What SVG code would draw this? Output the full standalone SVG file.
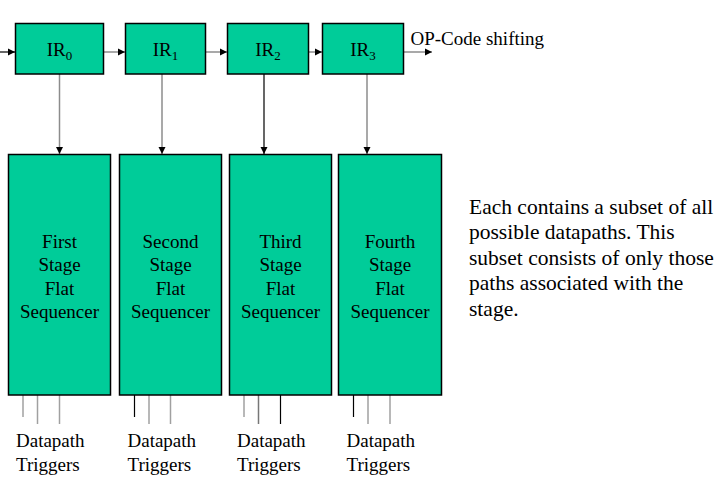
<svg xmlns="http://www.w3.org/2000/svg" width="728" height="487" viewBox="0 0 728 487" font-family="Liberation Serif, Times New Roman, serif">
<defs>
<marker id="ah" markerWidth="8" markerHeight="8" refX="7" refY="4" orient="auto" markerUnits="userSpaceOnUse">
<path d="M0,0.5 L7,4 L0,7.5 Z" fill="#000"/>
</marker>
<style>
.box{fill:#00CC99;stroke:#000;stroke-width:1.5}
.t{font-family:'Liberation Serif',serif;font-size:19px;fill:#000}
.c{text-anchor:middle}
.sub{font-size:13px}
.n{font-size:21.5px}
.g{stroke:#8c8c8c;stroke-width:1.5;fill:none}
.k{stroke:#000;stroke-width:1.2;fill:none}
.ds{stroke:#a0a0a0;stroke-width:1.5}
.dk{stroke:#000;stroke-width:1.2}
</style>
</defs>
<rect width="728" height="487" fill="#fff"/>

<g id="connectors">
<line class="k" x1="0" y1="52" x2="15" y2="52" marker-end="url(#ah)"/>
<line class="g" x1="103" y1="52" x2="125" y2="52" marker-end="url(#ah)"/>
<line class="g" x1="205" y1="52" x2="227" y2="52" marker-end="url(#ah)"/>
<line class="g" x1="308" y1="52" x2="322" y2="52" marker-end="url(#ah)"/>
<line class="g" x1="403" y1="52" x2="432" y2="52" marker-end="url(#ah)"/>
<line class="g" x1="59.5" y1="74" x2="59.5" y2="154" marker-end="url(#ah)"/>
<line class="g" x1="162" y1="74" x2="162" y2="154" marker-end="url(#ah)"/>
<line class="k" x1="264" y1="74" x2="264" y2="154" marker-end="url(#ah)"/>
<line class="g" x1="367" y1="74" x2="367" y2="154" marker-end="url(#ah)"/>
<line class="ds" x1="23" y1="395" x2="23" y2="417"/>
<line class="ds" x1="37.5" y1="395" x2="37.5" y2="424"/>
<line class="ds" x1="59.5" y1="395" x2="59.5" y2="424"/>
<line class="dk" x1="134.5" y1="395" x2="134.5" y2="417"/>
<line class="ds" x1="149" y1="395" x2="149" y2="424"/>
<line class="ds" x1="170.5" y1="395" x2="170.5" y2="424"/>
<line class="ds" x1="244" y1="395" x2="244" y2="417"/>
<line class="ds" x1="258.5" y1="395" x2="258.5" y2="424" style="stroke:#777"/>
<line class="dk" x1="280.5" y1="395" x2="280.5" y2="424"/>
<line class="dk" x1="353.5" y1="395" x2="353.5" y2="417"/>
<line class="ds" x1="368" y1="395" x2="368" y2="424"/>
<line class="ds" x1="390" y1="395" x2="390" y2="424"/>
</g>

<g id="ir0"><rect class="box" x="15.5" y="23.5" width="88" height="50.5"/><text class="t c" x="59.5" y="56">IR<tspan class="sub" dy="4">0</tspan></text></g>
<g id="ir1"><rect class="box" x="125.5" y="23.5" width="80" height="50.5"/><text class="t c" x="165.5" y="56">IR<tspan class="sub" dy="4">1</tspan></text></g>
<g id="ir2"><rect class="box" x="227.5" y="23.5" width="81" height="50.5"/><text class="t c" x="268" y="56">IR<tspan class="sub" dy="4">2</tspan></text></g>
<g id="ir3"><rect class="box" x="322.5" y="23.5" width="81" height="50.5"/><text class="t c" x="363" y="56">IR<tspan class="sub" dy="4">3</tspan></text></g>

<g id="opcode"><text class="t" x="410.5" y="45">OP-Code shifting</text></g>

<g id="stage1"><rect class="box" x="8.5" y="154.5" width="102" height="240.5"/>
<text class="t c" x="59.5" y="247.5">First</text><text class="t c" x="59.5" y="271">Stage</text><text class="t c" x="59.5" y="294.5">Flat</text><text class="t c" x="59.5" y="317.5">Sequencer</text></g>
<g id="stage2"><rect class="box" x="119.5" y="154.5" width="102" height="240.5"/>
<text class="t c" x="170.5" y="247.5">Second</text><text class="t c" x="170.5" y="271">Stage</text><text class="t c" x="170.5" y="294.5">Flat</text><text class="t c" x="170.5" y="317.5">Sequencer</text></g>
<g id="stage3"><rect class="box" x="229.5" y="154.5" width="102" height="240.5"/>
<text class="t c" x="280.5" y="247.5">Third</text><text class="t c" x="280.5" y="271">Stage</text><text class="t c" x="280.5" y="294.5">Flat</text><text class="t c" x="280.5" y="317.5">Sequencer</text></g>
<g id="stage4"><rect class="box" x="338.5" y="154.5" width="103" height="240.5"/>
<text class="t c" x="390" y="247.5">Fourth</text><text class="t c" x="390" y="271">Stage</text><text class="t c" x="390" y="294.5">Flat</text><text class="t c" x="390" y="317.5">Sequencer</text></g>

<g id="triggers1"><text class="t" x="16" y="447">Datapath</text><text class="t" x="16" y="471">Triggers</text></g>
<g id="triggers2"><text class="t" x="127.5" y="447">Datapath</text><text class="t" x="127.5" y="471">Triggers</text></g>
<g id="triggers3"><text class="t" x="237" y="447">Datapath</text><text class="t" x="237" y="471">Triggers</text></g>
<g id="triggers4"><text class="t" x="346.5" y="447">Datapath</text><text class="t" x="346.5" y="471">Triggers</text></g>

<g id="note">
<text class="t n" x="469" y="213.5">Each contains a subset of all</text>
<text class="t n" x="469" y="239">possible datapaths. This</text>
<text class="t n" x="469" y="264.5">subset consists of only those</text>
<text class="t n" x="469" y="290">paths associated with the</text>
<text class="t n" x="469" y="315.5">stage.</text>
</g>
</svg>
